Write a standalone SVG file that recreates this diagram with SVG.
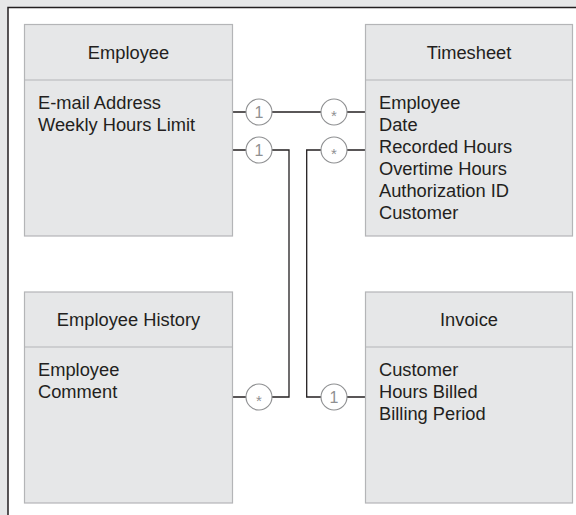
<svg xmlns="http://www.w3.org/2000/svg" width="576" height="515" viewBox="0 0 576 515">
<style>
.box{fill:#e6e7e8;stroke:#b4b5b7;stroke-width:1.2}
.div{stroke:#b4b5b7;stroke-width:1.2}
.t{font-family:"Liberation Sans",Arial,sans-serif;font-size:18.3px;fill:#231f20}
.c{fill:#fff;stroke:#8f9092;stroke-width:1.1}
.ct{font-family:"Liberation Sans",Arial,sans-serif;font-size:16px;fill:#8f9092;text-anchor:middle}
.cs{font-family:"Liberation Sans",Arial,sans-serif;font-size:15px;fill:#8f9092;text-anchor:middle}
.ln{fill:none;stroke:#231f20;stroke-width:1.3}
</style>
<rect x="0" y="0" width="576" height="515" fill="#e6e7e8"/>
<rect x="8" y="7.5" width="580" height="520" fill="#fff" stroke="#231f20" stroke-width="1.5"/>
<g id="connectors">
<path class="ln" d="M232.5,112H365.5"/>
<path class="ln" d="M232.5,150H289V397H232.5"/>
<path class="ln" d="M365.5,150H306.7V397H365.5"/>
<circle class="c" cx="259" cy="112" r="13"/><text class="ct" x="259" y="117.8">1</text>
<circle class="c" cx="334" cy="112" r="13"/><text class="cs" x="334" y="121">*</text>
<circle class="c" cx="259" cy="150" r="13"/><text class="ct" x="259" y="155.8">1</text>
<circle class="c" cx="334" cy="150" r="13"/><text class="cs" x="334" y="159">*</text>
<circle class="c" cx="259" cy="397" r="13"/><text class="cs" x="259" y="406">*</text>
<circle class="c" cx="334" cy="397" r="13"/><text class="ct" x="334" y="402.8">1</text>
</g>
<g id="employee">
<rect class="box" x="24.5" y="24.5" width="208" height="211.5"/>
<line class="div" x1="24.5" y1="80" x2="232.5" y2="80"/>
<text class="t" x="128.5" y="59" text-anchor="middle">Employee</text>
<text class="t" x="38" y="109">E-mail Address</text>
<text class="t" x="38" y="131">Weekly Hours Limit</text>
</g>
<g id="timesheet">
<rect class="box" x="365.5" y="24.5" width="207" height="211.5"/>
<line class="div" x1="365.5" y1="80" x2="572.5" y2="80"/>
<text class="t" x="469" y="59" text-anchor="middle">Timesheet</text>
<text class="t" x="379" y="109">Employee</text>
<text class="t" x="379" y="131">Date</text>
<text class="t" x="379" y="153">Recorded Hours</text>
<text class="t" x="379" y="175">Overtime Hours</text>
<text class="t" x="379" y="197">Authorization ID</text>
<text class="t" x="379" y="219">Customer</text>
</g>
<g id="employee-history">
<rect class="box" x="24.5" y="292" width="208" height="211"/>
<line class="div" x1="24.5" y1="347" x2="232.5" y2="347"/>
<text class="t" x="128.5" y="326" text-anchor="middle">Employee History</text>
<text class="t" x="38" y="376">Employee</text>
<text class="t" x="38" y="398">Comment</text>
</g>
<g id="invoice">
<rect class="box" x="365.5" y="292" width="207" height="211"/>
<line class="div" x1="365.5" y1="347" x2="572.5" y2="347"/>
<text class="t" x="469" y="326" text-anchor="middle">Invoice</text>
<text class="t" x="379" y="376">Customer</text>
<text class="t" x="379" y="398">Hours Billed</text>
<text class="t" x="379" y="420">Billing Period</text>
</g>
</svg>
